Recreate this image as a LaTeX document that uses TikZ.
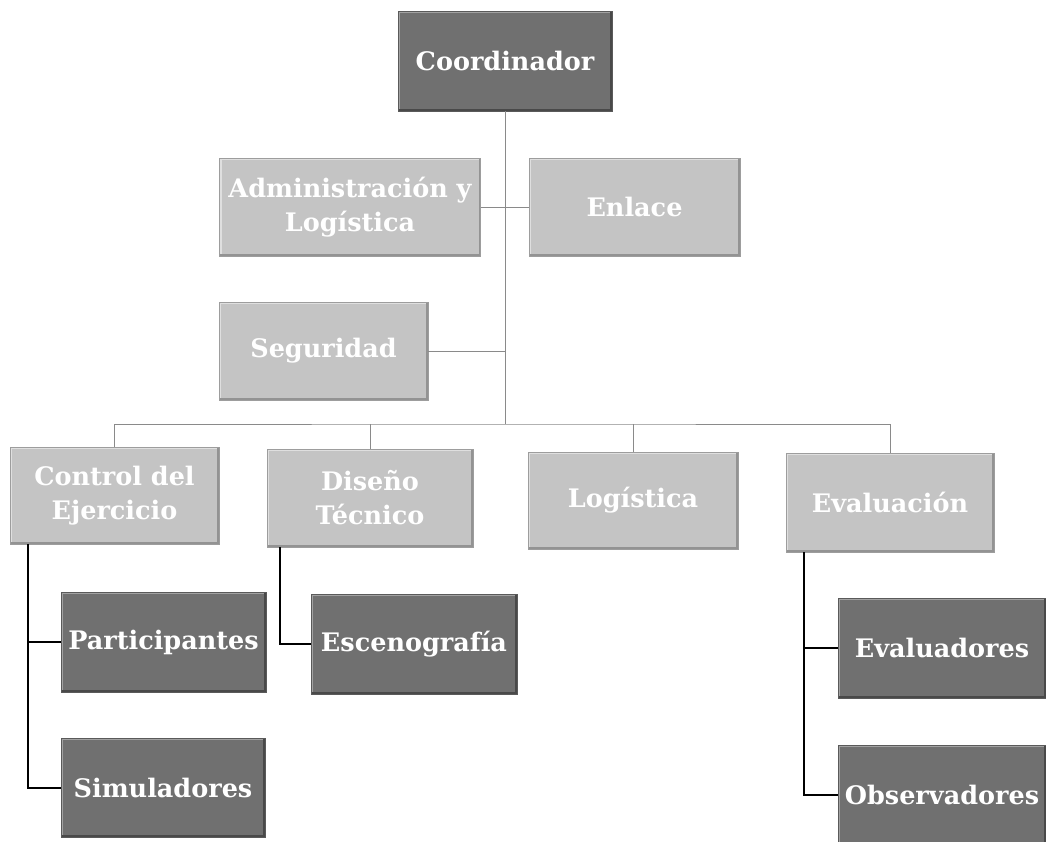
\documentclass[tikz,border=0pt]{standalone}
\usepackage{fontspec}
\setmainfont{DejaVu Serif}
\definecolor{darkbox}{HTML}{707070}
\definecolor{lightbox}{HTML}{C4C4C4}
\definecolor{thinline}{HTML}{8A8A8A}
\begin{document}
\begin{tikzpicture}[x=1pt,y=-1pt,
  boxbase/.style={rectangle, text=white, font=\bfseries\fontsize{25.5}{34}\selectfont,
    align=center, inner sep=2pt, line width=0.6pt},
  darknode/.style={boxbase, fill=darkbox, draw=darkbox!80!black,
    path picture={
      \draw[darkbox!65!white, line width=4pt] (path picture bounding box.south west) -- (path picture bounding box.north west) -- (path picture bounding box.north east);
      \draw[darkbox!65!black, line width=4pt] (path picture bounding box.south west) -- (path picture bounding box.south east) -- (path picture bounding box.north east);}},
  lightnode/.style={boxbase, fill=lightbox, draw=lightbox!80!black,
    path picture={
      \draw[lightbox!55!white, line width=4pt] (path picture bounding box.south west) -- (path picture bounding box.north west) -- (path picture bounding box.north east);
      \draw[lightbox!75!black, line width=4pt] (path picture bounding box.south west) -- (path picture bounding box.south east) -- (path picture bounding box.north east);}},
  upper/.style={draw=thinline, line width=1pt},
  lower/.style={draw=black, line width=2pt}]
\useasboundingbox (0,0) rectangle (1046,841);
\fill[white] (0,0) rectangle (1046,841);
\clip (0,0) rectangle (1046,841);

% nodes
\node[darknode, minimum width=214pt, minimum height=100pt] (coord) at (505,61) {Coordinador};
\node[lightnode, minimum width=261pt, minimum height=98pt] (admin) at (350,207) {Administración y\\Logística};
\node[lightnode, minimum width=211pt, minimum height=98pt] (enlace) at (634.5,207) {Enlace};
\node[lightnode, minimum width=209pt, minimum height=98pt] (seg) at (323.5,351) {Seguridad};
\node[lightnode, minimum width=209pt, minimum height=97pt] (control) at (114.5,495.5) {Control del\\Ejercicio};
\node[lightnode, minimum width=206pt, minimum height=98pt] (diseno) at (370,498) {Diseño\\Técnico};
\node[lightnode, minimum width=210pt, minimum height=97pt] (logistica) at (633,500.5) {Logística};
\node[lightnode, minimum width=208pt, minimum height=99pt] (evaluacion) at (890,502.5) {Evaluación};
\node[darknode, minimum width=205pt, minimum height=100pt] (particip) at (163.5,642) {Participantes};
\node[darknode, minimum width=206pt, minimum height=100pt] (esceno) at (414,644) {Escenografía};
\node[darknode, minimum width=204pt, minimum height=99pt] (simul) at (163,787.5) {Simuladores};
\node[darknode, minimum width=208pt, minimum height=100pt] (evalua) at (942,648) {Evaluadores};
\node[darknode, minimum width=208pt, minimum height=100pt] (observ) at (942,795) {Observadores};

% helper coordinates
\coordinate (bus) at (505,424);
\coordinate (ctrlx) at (28,0);
\coordinate (disx) at (280,0);
\coordinate (evalx) at (804,0);

% upper connectors
\draw[upper] (coord.south) -- (bus);
\draw[upper] (admin.east) -- (enlace.west);
\draw[upper] (seg.east) -- (seg.east -| coord.south);
\draw[upper] (control.north) |- (bus) -| (evaluacion.north);
\draw[upper] (diseno.north) -- (diseno.north |- bus);
\draw[upper] (logistica.north) -- (logistica.north |- bus);

% lower connectors
\draw[lower] (control.south -| ctrlx) |- (simul.west);
\draw[lower] (particip.west -| ctrlx) -- (particip.west);
\draw[lower] (diseno.south -| disx) |- (esceno.west);
\draw[lower] (evaluacion.south -| evalx) |- (observ.west);
\draw[lower] (evalua.west -| evalx) -- (evalua.west);
\end{tikzpicture}
\end{document}
